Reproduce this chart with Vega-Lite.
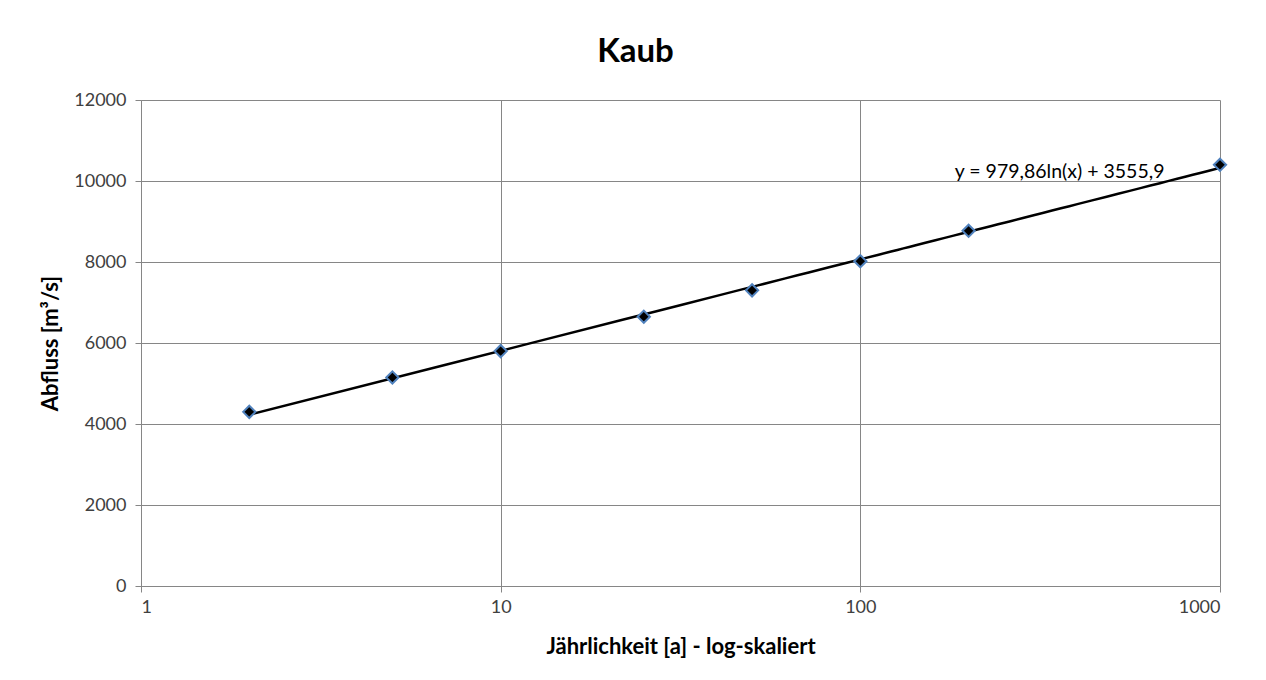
{
  "$schema": "https://vega.github.io/schema/vega-lite/v6.json",
  "autosize": "none",
  "width": 1079,
  "height": 486,
  "padding": {"left": 141, "top": 100, "right": 46, "bottom": 94},
  "background": "white",
  "title": {
    "text": "Kaub",
    "font": "Lato",
    "fontSize": 33,
    "fontWeight": "bold",
    "color": "#000000",
    "anchor": "middle",
    "dx": -45,
    "offset": 22
  },
  "config": {
    "view": {"stroke": null},
    "axis": {
      "labelFont": "Lato",
      "titleFont": "Lato",
      "labelFontSize": 18,
      "titleFontSize": 22,
      "labelColor": "#404040",
      "titleColor": "#000000",
      "titleFontWeight": "bold",
      "gridColor": "#868686",
      "gridOpacity": 1,
      "domainColor": "#868686",
      "tickColor": "#868686",
      "tickSize": 6
    }
  },
  "data": {
    "values": [
      {"jahr": 2, "abfluss": 4300},
      {"jahr": 5, "abfluss": 5150},
      {"jahr": 10, "abfluss": 5800},
      {"jahr": 25, "abfluss": 6650},
      {"jahr": 50, "abfluss": 7300},
      {"jahr": 100, "abfluss": 8020},
      {"jahr": 200, "abfluss": 8770},
      {"jahr": 1000, "abfluss": 10400}
    ]
  },
  "layer": [
    {
      "transform": [{"regression": "abfluss", "on": "jahr", "method": "log"}],
      "mark": {"type": "line", "color": "#000000", "strokeWidth": 2.5},
      "encoding": {
        "x": {"field": "jahr", "type": "quantitative"},
        "y": {"field": "abfluss", "type": "quantitative"}
      }
    },
    {
      "mark": {"type": "point", "shape": "diamond", "filled": true, "fill": "#000000", "stroke": "#4f81bd", "strokeWidth": 2, "size": 150, "opacity": 1},
      "encoding": {
        "x": {
          "field": "jahr",
          "type": "quantitative",
          "scale": {"type": "log", "domain": [1, 1000], "nice": false},
          "axis": {"values": [1, 10, 100, 1000], "format": "d", "title": "Jährlichkeit [a] - log-skaliert", "titlePadding": 20, "labelPadding": 6}
        },
        "y": {
          "field": "abfluss",
          "type": "quantitative",
          "scale": {"domain": [0, 12000], "nice": false},
          "axis": {"values": [0, 2000, 4000, 6000, 8000, 10000, 12000], "format": "d", "title": "Abfluss [m³/s]", "titlePadding": 11, "labelPadding": 9}
        }
      }
    },
    {
      "data": {"values": [{"jahr": 183, "abfluss": 10220, "label": "y = 979,86ln(x) + 3555,9"}]},
      "mark": {"type": "text", "align": "left", "baseline": "middle", "font": "Lato", "fontSize": 19.5, "color": "#000000"},
      "encoding": {
        "x": {"field": "jahr", "type": "quantitative"},
        "y": {"field": "abfluss", "type": "quantitative"},
        "text": {"field": "label"}
      }
    }
  ]
}
